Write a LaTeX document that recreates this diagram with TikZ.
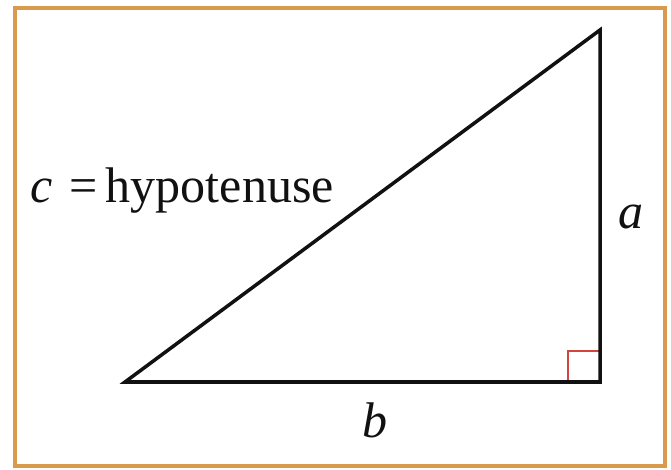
\documentclass[tikz,border=0pt]{standalone}
\usepackage{fontspec}
\setmainfont{Liberation Serif}
\usetikzlibrary{positioning,calc}
\definecolor{Frame}{HTML}{D99A4E}
\definecolor{Mark}{HTML}{D2443C}
\definecolor{Ink}{HTML}{111111}
\tikzset{
  side/.style={draw=Ink,line width=2pt,line join=miter},
  rightmark/.style={draw=Mark,line width=1.3pt},
  lbl/.style={font=\fontsize{28.5}{32}\selectfont,inner sep=0pt,text=Ink},
}
\begin{document}
\begin{tikzpicture}[x=0.02cm,y=-0.02cm]
    \useasboundingbox (0,0) rectangle (671,469);
    \draw[Frame,line width=1.9pt] (15,8) rectangle (665,466);
    \coordinate (B) at (125,382);
    \coordinate (C) at (600,382);
    \coordinate (A) at (600,30);
    \draw[rightmark] (568,382) -- (568,351) -- (600,351);
    \draw[side] (B) -- (C) -- (A) -- cycle;
    \node[lbl,anchor=base west] (hyp) at (30,202) {\textit{c}\,\,=\,hypotenuse};
    \node[lbl,anchor=base] (sa) at (631,228) {\textit{a}};
    \node[lbl,anchor=base] (sb) at (375,437) {\textit{b}};

  \end{tikzpicture}
\end{document}
